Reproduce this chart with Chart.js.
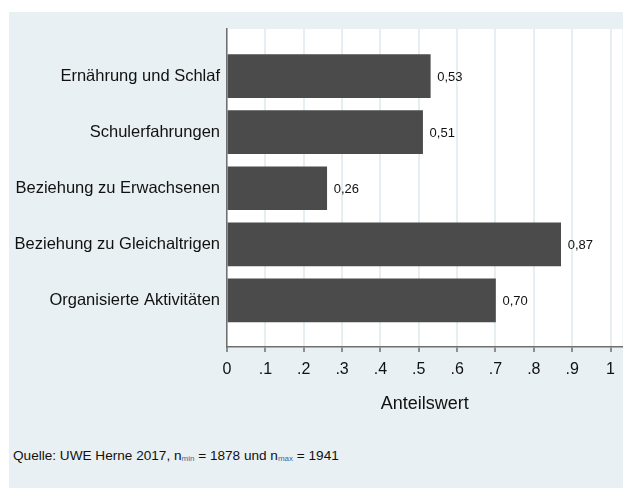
<!DOCTYPE html>
<html>
<head>
<meta charset="utf-8">
<script src="https://cdn.jsdelivr.net/npm/chart.js@4"></script>
<style>
    body { margin: 0; background: #fff; font-family: 'Liberation Sans', Arial, sans-serif; }
    #wrap { position: relative; width: 623px; height: 488px; overflow: hidden; }
    #panel { position: absolute; left: 9px; top: 12px; width: 614px; height: 476px; background: #e9f0f3; }
    #box { position: absolute; left: 0; top: 0; width: 614px; height: 415px; }
    #quelle { position: absolute; left: 4px; top: 436px; font-size: 13.6px; color: #111; white-space: nowrap; }
    #quelle sub { font-size: 8px; color: #3a6a9c; vertical-align: -1px; }
</style>
</head>
<body>
<div id="wrap">
    <div id="panel">
        <div id="box"><canvas id="anteil"></canvas></div>
        <div id="quelle">Quelle: UWE Herne 2017, n<sub>min</sub> = 1878 und n<sub>max</sub> = 1941</div>
    </div>
</div>
<script>
// Anteilswerte je Bereich
var kategorien = ['Ernährung und Schlaf', 'Schulerfahrungen', 'Beziehung zu Erwachsenen', 'Beziehung zu Gleichaltrigen', 'Organisierte Aktivitäten'];
var werte = [0.53, 0.51, 0.26, 0.87, 0.70];
var xTicks = [0, 0.1, 0.2, 0.3, 0.4, 0.5, 0.6, 0.7, 0.8, 0.9, 1];
var xTickLabels = ['0', '.1', '.2', '.3', '.4', '.5', '.6', '.7', '.8', '.9', '1'];

(function () {
    var canvas = document.getElementById('anteil');
    var schrift = "'Liberation Sans', Arial, sans-serif";

    // weisser Plotbereich
    var plotBg = {
        id: 'plotBg',
        beforeDraw: function (chart) {
            var a = chart.chartArea;
            var ctx = chart.ctx;
            ctx.save();
            ctx.fillStyle = '#ffffff';
            ctx.fillRect(a.left, a.top, a.right - a.left, a.bottom - a.top);
            ctx.restore();
        }
    };

    // Werte rechts neben den Balken
    var wertLabels = {
        id: 'wertLabels',
        afterDatasetsDraw: function (chart) {
            var ctx = chart.ctx;
            var meta = chart.getDatasetMeta(0);
            ctx.save();
            ctx.font = '13px ' + schrift;
            ctx.fillStyle = '#111';
            ctx.textAlign = 'left';
            ctx.textBaseline = 'middle';
            meta.data.forEach(function (bar, i) {
                ctx.fillText(werte[i].toFixed(2).replace('.', ','), bar.x + 7, bar.y + 1);
            });
            ctx.restore();
        }
    };

    new Chart(canvas, {
        type: 'bar',
        data: {
            datasets: [{
                data: werte.map(function (v, i) { return { x: v, y: i }; }),
                backgroundColor: '#4b4b4b',
                borderWidth: 0,
                barThickness: 43
            }]
        },
        options: {
            indexAxis: 'y',
            responsive: true,
            maintainAspectRatio: false,
            animation: false,
            layout: { padding: { top: 17, right: 0, bottom: 0, left: 0 } },
            plugins: {
                legend: { display: false },
                tooltip: { enabled: false }
            },
            scales: {
                x: {
                    type: 'linear',
                    min: 0,
                    max: 1.031,
                    afterBuildTicks: function (scale) {
                        scale.ticks = xTicks.map(function (v) { return { value: v }; });
                    },
                    afterFit: function (scale) { scale.height = 80; },
                    ticks: {
                        padding: 8,
                        color: '#111',
                        maxRotation: 0,
                        font: { size: 16, family: schrift },
                        callback: function (v, i) { return xTickLabels[i]; }
                    },
                    grid: {
                        color: '#e6eef1',
                        lineWidth: 2,
                        tickLength: 5,
                        tickColor: '#6f6f6f',
                        tickWidth: 1.5
                    },
                    border: { color: '#6f6f6f', width: 1.5 },
                    title: {
                        display: true,
                        text: 'Anteilswert',
                        color: '#111',
                        font: { size: 18, family: schrift },
                        padding: { top: 0, bottom: 12 }
                    }
                },
                y: {
                    type: 'linear',
                    reverse: true,
                    offset: false,
                    min: -0.84,
                    max: 4.83,
                    afterBuildTicks: function (scale) {
                        scale.ticks = kategorien.map(function (k, i) { return { value: i }; });
                    },
                    afterFit: function (scale) { scale.width = 218; },
                    ticks: {
                        padding: 7,
                        color: '#111',
                        font: { size: 16.5, family: schrift },
                        callback: function (v) { return kategorien[v]; }
                    },
                    grid: { display: false, drawTicks: false, offset: false },
                    border: { color: '#6f6f6f', width: 1.5 }
                }
            }
        },
        plugins: [plotBg, wertLabels]
    });
})();
</script>
</body>
</html>
